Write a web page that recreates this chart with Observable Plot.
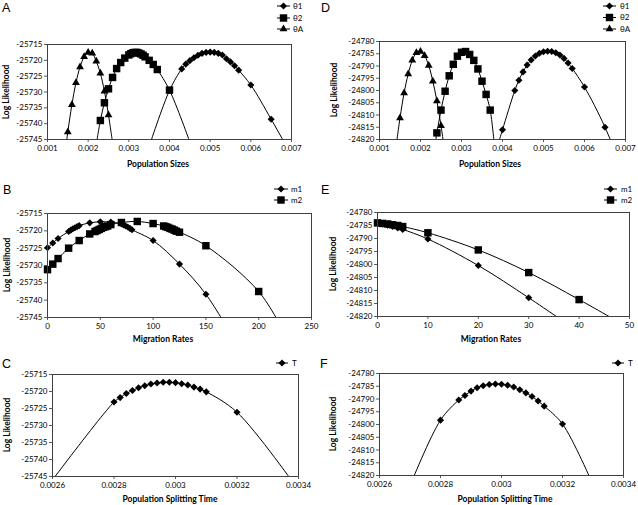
<!DOCTYPE html>
<html><head><meta charset="utf-8">
<script src="https://cdn.jsdelivr.net/npm/d3@7"></script>
<script src="https://cdn.jsdelivr.net/npm/@observablehq/plot@0.6"></script>
<style>
body{margin:0;background:#fff;}
#fig{position:relative;width:638px;height:505px;overflow:hidden;background:#fff;}
</style></head><body><div id="fig"></div>
<script>
// ---------- tick values ----------
const yTicksLeft  = [-25745, -25740, -25735, -25730, -25725, -25720, -25715];
const yTicksRight = [-24820, -24815, -24810, -24805, -24800, -24795, -24790, -24785, -24780];
const xTicksTheta = [0.001, 0.002, 0.003, 0.004, 0.005, 0.006, 0.007];
const xTicksMigB  = [0, 50, 100, 150, 200, 250];
const xTicksMigE  = [0, 10, 20, 30, 40, 50];
const xTicksT     = [0.0026, 0.0028, 0.003, 0.0032, 0.0034];

// ---------- Panel A (population sizes) ----------
const aTheta1X = [0.0035, 0.0040, 0.0043, 0.0044, 0.0045, 0.0046, 0.0047, 0.0048, 0.0049, 0.0050, 0.0051, 0.0052, 0.0053, 0.0054, 0.0055, 0.0056, 0.0057, 0.0060, 0.0065, 0.0070];
const aTheta1Y = [-25747.2, -25729.5, -25722.7, -25721.2, -25720.1, -25719.2, -25718.4, -25717.8, -25717.5, -25717.4, -25717.5, -25717.8, -25718.3, -25719.5, -25720.5, -25721.7, -25723.1, -25727.8, -25738.6, -25750.0];
const aTheta2X = [0.0022, 0.0023, 0.0024, 0.0025, 0.0026, 0.0027, 0.0028, 0.0029, 0.0030, 0.00305, 0.0031, 0.00315, 0.0032, 0.00325, 0.0033, 0.00335, 0.0034, 0.0035, 0.0036, 0.0037, 0.0040, 0.0045];
const aTheta2Y = [-25746.5, -25739.0, -25733.4, -25729.0, -25725.4, -25722.6, -25720.7, -25719.3, -25718.3, -25717.9, -25717.6, -25717.5, -25717.5, -25717.7, -25718.0, -25718.4, -25718.9, -25720.0, -25721.3, -25722.9, -25729.4, -25745.8];
const aThetaAX = [0.0014, 0.0015, 0.0016, 0.0017, 0.0018, 0.0019, 0.0020, 0.0021, 0.0022, 0.0023, 0.0024, 0.0025, 0.0026];
const aThetaAY = [-25753.0, -25742.6, -25734.0, -25727.1, -25722.1, -25718.9, -25717.5, -25717.8, -25720.3, -25724.1, -25729.8, -25737.3, -25746.0];

// ---------- Panel D (population sizes) ----------
const dTheta1X = [0.0039, 0.0040, 0.0043, 0.0044, 0.0045, 0.0046, 0.0047, 0.0048, 0.0049, 0.0050, 0.0051, 0.0052, 0.0053, 0.0054, 0.0055, 0.0056, 0.0057, 0.0060, 0.0065, 0.0070];
const dTheta1Y = [-24821.5, -24816.0, -24800.0, -24795.8, -24792.4, -24789.6, -24787.5, -24785.9, -24784.8, -24784.2, -24784.0, -24784.1, -24784.6, -24785.5, -24786.9, -24788.8, -24791.0, -24798.6, -24815.0, -24836.0];
const dTheta2X = [0.0023, 0.0024, 0.0025, 0.0026, 0.0027, 0.0028, 0.0029, 0.0030, 0.0031, 0.0032, 0.0033, 0.0034, 0.0035, 0.0036, 0.0037, 0.0038];
const dTheta2Y = [-24828.0, -24817.3, -24808.0, -24800.3, -24794.0, -24789.3, -24786.0, -24784.4, -24784.1, -24785.3, -24787.7, -24791.2, -24796.2, -24801.6, -24808.0, -24822.0];
const dThetaAX = [0.0014, 0.0015, 0.0016, 0.0017, 0.0018, 0.0019, 0.0020, 0.0021, 0.0022, 0.0023, 0.0024, 0.0025, 0.0026];
const dThetaAY = [-24823.5, -24811.2, -24801.0, -24793.3, -24787.7, -24784.6, -24784.1, -24785.8, -24789.8, -24796.2, -24804.3, -24814.4, -24826.0];

// ---------- Panel B (migration rates) ----------
const bM1X = [0, 5, 10, 20, 22, 24, 26, 28, 30, 40, 50, 60, 70, 72, 74, 76, 78, 80, 100, 125, 150, 175];
const bM1Y = [-25724.9, -25723.5, -25722.2, -25720.2, -25719.8, -25719.4, -25719.1, -25718.8, -25718.5, -25717.7, -25717.4, -25717.5, -25718.0, -25718.3, -25718.6, -25718.9, -25719.3, -25719.7, -25722.8, -25729.6, -25738.3, -25750.5];
const bM2X = [0, 5, 10, 20, 30, 40, 45, 47, 49, 51, 53, 55, 57, 60, 70, 85, 100, 110, 112, 114, 116, 118, 120, 122, 125, 150, 200, 225];
const bM2Y = [-25731.2, -25729.6, -25728.0, -25725.0, -25722.8, -25720.9, -25720.2, -25719.9, -25719.6, -25719.3, -25719.0, -25718.8, -25718.6, -25718.2, -25717.6, -25717.3, -25717.9, -25718.6, -25718.8, -25719.0, -25719.3, -25719.5, -25719.8, -25720.1, -25720.4, -25724.3, -25737.5, -25749.8];

// ---------- Panel E (migration rates) ----------
const eM1X = [0, 1, 2, 3, 4, 5, 10, 20, 30, 40];
const eM1Y = [-24784.0, -24784.4, -24784.9, -24785.4, -24785.9, -24786.5, -24790.2, -24800.4, -24812.8, -24826.0];
const eM2X = [0, 1, 2, 3, 4, 5, 10, 20, 30, 40, 50];
const eM2Y = [-24784.0, -24784.2, -24784.4, -24784.7, -24785.0, -24785.4, -24787.8, -24794.4, -24803.1, -24813.5, -24824.5];

// ---------- Panel C (splitting time) ----------
const cTX = [0.0025, 0.0028, 0.00282, 0.00284, 0.00286, 0.00288, 0.0029, 0.00292, 0.00294, 0.00296, 0.00298, 0.0030, 0.00302, 0.00304, 0.00306, 0.00308, 0.0031, 0.0032, 0.0034];
const cTY = [-25758.0, -25723.1, -25721.8, -25720.6, -25719.7, -25718.9, -25718.3, -25717.8, -25717.5, -25717.3, -25717.3, -25717.4, -25717.7, -25718.1, -25718.7, -25719.3, -25720.1, -25726.1, -25749.0];

// ---------- Panel F (splitting time) ----------
const fTX = [0.0027, 0.0028, 0.00286, 0.00288, 0.0029, 0.00292, 0.00294, 0.00296, 0.00298, 0.0030, 0.00302, 0.00304, 0.00306, 0.00308, 0.0031, 0.00312, 0.00314, 0.0032, 0.0033];
const fTY = [-24824.0, -24798.3, -24790.4, -24788.6, -24786.9, -24785.6, -24784.8, -24784.3, -24784.1, -24784.2, -24784.6, -24785.3, -24786.4, -24787.6, -24789.0, -24790.8, -24792.8, -24799.8, -24823.6];

// ---------- drawing ----------
const FONT = "Lato, 'Open Sans', sans-serif";
const SYM = {
  diamond: {symbol: "diamond2", r: 3.2, d3: d3.symbolDiamond2},
  square:  {symbol: "square",   r: 4.2, d3: d3.symbolSquare},
  triangle:{symbol: "triangle", r: 2.9, d3: d3.symbolTriangle}
};
const zip = (xs, ys) => xs.map((x, i) => ({x, y: ys[i]}));
const fig = document.getElementById("fig");

const panels = [
  {frame: [47, 291, 44, 139], xTicks: xTicksTheta, yTicks: yTicksLeft,
   series: [{x: aTheta1X, y: aTheta1Y, m: "diamond"}, {x: aTheta2X, y: aTheta2Y, m: "square"}, {x: aThetaAX, y: aThetaAY, m: "triangle"}]},
  {frame: [47, 311, 213, 317], xTicks: xTicksMigB, yTicks: yTicksLeft,
   series: [{x: bM1X, y: bM1Y, m: "diamond"}, {x: bM2X, y: bM2Y, m: "square"}]},
  {frame: [52, 298, 374, 476], xTicks: xTicksT, yTicks: yTicksLeft,
   series: [{x: cTX, y: cTY, m: "diamond"}]},
  {frame: [379, 625, 41, 139], xTicks: xTicksTheta, yTicks: yTicksRight,
   series: [{x: dTheta1X, y: dTheta1Y, m: "diamond"}, {x: dTheta2X, y: dTheta2Y, m: "square"}, {x: dThetaAX, y: dThetaAY, m: "triangle"}]},
  {frame: [377, 629, 212, 316], xTicks: xTicksMigE, yTicks: yTicksRight,
   series: [{x: eM1X, y: eM1Y, m: "diamond"}, {x: eM2X, y: eM2Y, m: "square"}]},
  {frame: [379, 623, 373, 475], xTicks: xTicksT, yTicks: yTicksRight,
   series: [{x: fTX, y: fTY, m: "diamond"}]}
];

for (const p of panels) {
  const mL = 40, mR = 14, mT = 7, mB = 16;
  const [x0, x1, y0, y1] = p.frame;
  const xMin = p.xTicks[0], xMax = p.xTicks[p.xTicks.length - 1];
  const yMin = p.yTicks[0], yMax = p.yTicks[p.yTicks.length - 1];
  const marks = [];
  for (const s of p.series) {
    const data = zip(s.x, s.y);
    const sym = SYM[s.m];
    marks.push(Plot.line(data, {x: "x", y: "y", curve: "catmull-rom", stroke: "#000", strokeWidth: 1, clip: true}));
    marks.push(Plot.dot(data.filter(d => d.x >= xMin && d.x <= xMax && d.y >= yMin && d.y <= yMax),
      {x: "x", y: "y", symbol: sym.symbol, r: sym.r, fill: "#000", stroke: "none"}));
  }
  const svg = Plot.plot({
    width: x1 - x0 + mL + mR, height: y1 - y0 + mT + mB,
    marginLeft: mL, marginRight: mR, marginTop: mT, marginBottom: mB,
    x: {domain: [xMin, xMax]}, y: {domain: [yMin, yMax]},
    style: {fontFamily: FONT, fontSize: "8px", color: "#000", background: "transparent", overflow: "visible"},
    marks: [
      Plot.axisY({ticks: p.yTicks, tickFormat: d => String(d), tickSize: 3, tickPadding: 2, label: null, stroke: "#595959", fontSize: 8}),
      Plot.axisX({ticks: p.xTicks, tickFormat: d => String(d), tickSize: 3, tickPadding: 3, label: null, stroke: "#595959", fontSize: 8}),
      ...marks,
      Plot.frame({stroke: "#404040"})
    ]
  });
  svg.style.position = "absolute";
  svg.style.left = (x0 - mL) + "px";
  svg.style.top = (y0 - mT) + "px";
  fig.append(svg);
}

// ---------- annotations: panel letters, axis titles, legends ----------
const over = d3.select(fig).append("svg")
  .attr("width", 638).attr("height", 505)
  .style("position", "absolute").style("left", "0px").style("top", "0px")
  .style("overflow", "visible").style("pointer-events", "none");

const letters = [["A", 2, 12], ["B", 3, 194], ["C", 2, 368], ["D", 321, 12], ["E", 321, 194], ["F", 320, 368]];
for (const [t, x, y] of letters)
  over.append("text").attr("x", x).attr("y", y).attr("font-family", "'Liberation Sans', Arial, sans-serif")
    .attr("font-size", 12.5).text(t);

const xTitles = [["Population Sizes", 158, 167], ["Migration Rates", 163, 342], ["Population Splitting Time", 170, 502],
                 ["Population Sizes", 490, 167], ["Migration Rates", 491, 342], ["Population Splitting Time", 505, 502]];
for (const [t, x, y] of xTitles)
  over.append("text").attr("x", x).attr("y", y).attr("text-anchor", "middle").attr("font-family", FONT)
    .attr("font-weight", "bold").attr("font-size", 8.5).text(t);

const yTitles = [[6, 92], [7, 265], [7, 425], [334, 90], [333, 264], [333, 424]];
for (const [x, y] of yTitles)
  over.append("text").attr("transform", `translate(${x},${y}) rotate(-90)`).attr("dy", "0.35em")
    .attr("text-anchor", "middle").attr("font-family", FONT).attr("font-weight", "bold").attr("font-size", 8.5)
    .text("Log Likelihood");

const legends = [
  {x0: 277, x1: 290, tx: 293, items: [["θ1", "diamond", 6], ["θ2", "square", 18], ["θA", "triangle", 29]]},
  {x0: 603, x1: 616, tx: 620, items: [["θ1", "diamond", 6], ["θ2", "square", 17.5], ["θA", "triangle", 29]]},
  {x0: 274, x1: 288, tx: 291, items: [["m1", "diamond", 189], ["m2", "square", 200]]},
  {x0: 604, x1: 617, tx: 621, items: [["m1", "diamond", 189], ["m2", "square", 200]]},
  {x0: 276, x1: 288, tx: 292, items: [["T", "diamond", 363]]},
  {x0: 612, x1: 624, tx: 628, items: [["T", "diamond", 363]]}
];
for (const L of legends) {
  for (const [label, m, y] of L.items) {
    const sym = SYM[m];
    over.append("line").attr("x1", L.x0).attr("x2", L.x1).attr("y1", y).attr("y2", y).attr("stroke", "#000").attr("stroke-width", 1);
    over.append("path").attr("transform", `translate(${(L.x0 + L.x1) / 2},${y})`)
      .attr("d", d3.symbol(sym.d3, Math.PI * sym.r * sym.r)()).attr("fill", "#000");
    over.append("text").attr("x", L.tx).attr("y", y).attr("dy", "0.35em").attr("font-family", FONT)
      .attr("font-size", 8).text(label);
  }
}
</script></body></html>
